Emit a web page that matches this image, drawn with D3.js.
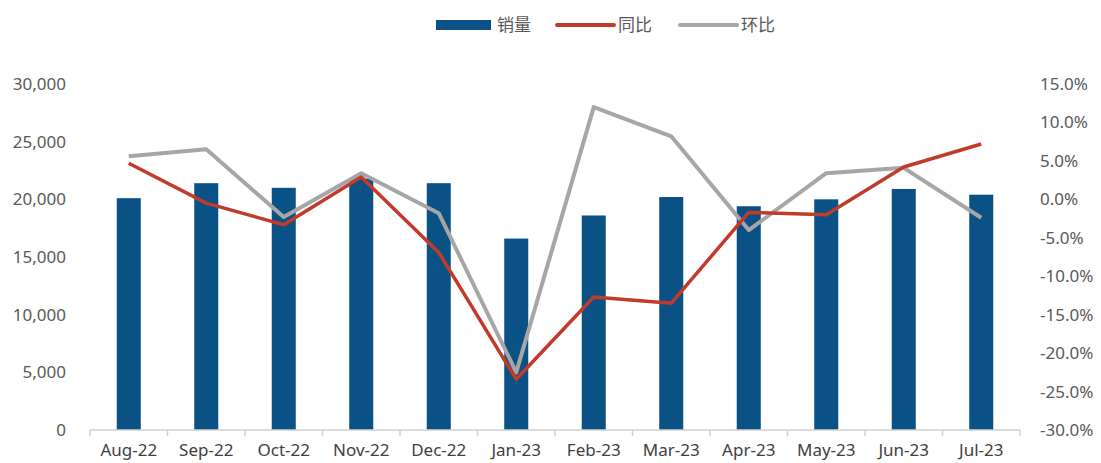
<!DOCTYPE html>
<html>
<head>
<meta charset="utf-8">
<script src="https://cdn.jsdelivr.net/npm/d3@7"></script>
<style>
  html, body { margin: 0; padding: 0; background: #fff; }
  svg { display: block; font-family: "Noto Sans", "Noto Sans CJK SC", sans-serif; }
</style>
</head>
<body>
<svg id="chart" width="1101" height="463"></svg>
<script>
// datos del grafico
var meses = ['Aug-22', 'Sep-22', 'Oct-22', 'Nov-22', 'Dec-22', 'Jan-23', 'Feb-23', 'Mar-23', 'Apr-23', 'May-23', 'Jun-23', 'Jul-23'];
var ventas = [20100, 21400, 21000, 21800, 21400, 16600, 18600, 20200, 19400, 20000, 20900, 20400];
var yoy = [4.7, -0.5, -3.3, 2.9, -6.9, -23.4, -12.7, -13.5, -1.7, -2.0, 4.2, 7.2];
var mom = [5.6, 6.5, -2.3, 3.4, -1.8, -22.5, 12.0, 8.2, -4.0, 3.4, 4.1, -2.4];
var ticksIzq = [0, 5000, 10000, 15000, 20000, 25000, 30000];
var ticksDer = [15, 10, 5, 0, -5, -10, -15, -20, -25, -30];

var svg = d3.select('#chart');
var margin = {top: 84, right: 81, bottom: 33, left: 90};
var width = +svg.attr('width') - margin.left - margin.right,
    height = +svg.attr('height') - margin.top - margin.bottom;

var g = svg.append('g').attr('transform', 'translate(' + margin.left + ',' + margin.top + ')');

var x = d3.scaleBand()
    .domain(meses)
    .range([0, width])
    .paddingInner(0.69)
    .paddingOuter(0.345);

var y = d3.scaleLinear().domain([0, 30000]).range([height, 0]);
var y2 = d3.scaleLinear().domain([-30, 15]).range([height, 0]);

var azul = '#0a5186', rojo = '#c23a2a', gris = '#a6a6a6';

// barras
g.selectAll('.bar')
  .data(ventas)
  .enter().append('rect')
    .attr('class', 'bar')
    .attr('x', function(d, i) { return x(meses[i]); })
    .attr('y', function(d) { return y(d); })
    .attr('width', x.bandwidth())
    .attr('height', function(d) { return height - y(d); })
    .attr('fill', azul);

// eje x
var paso = x.step();
g.append('line')
    .attr('x1', 0).attr('x2', width)
    .attr('y1', height).attr('y2', height)
    .attr('stroke', '#d0d0d0').attr('stroke-width', 1.5);

g.selectAll('.tick-x')
  .data(d3.range(meses.length + 1))
  .enter().append('line')
    .attr('x1', function(d) { return d * paso; })
    .attr('x2', function(d) { return d * paso; })
    .attr('y1', height).attr('y2', height + 6)
    .attr('stroke', '#d0d0d0').attr('stroke-width', 1.5);

g.selectAll('.lab-x')
  .data(meses)
  .enter().append('text')
    .attr('x', function(d) { return x(d) + x.bandwidth() / 2; })
    .attr('y', height + 26)
    .attr('text-anchor', 'middle')
    .attr('font-size', 17)
    .attr('fill', '#404040')
    .text(function(d) { return d; });

// eje izquierdo
var fmt = d3.format(',');
g.selectAll('.lab-y')
  .data(ticksIzq)
  .enter().append('text')
    .attr('x', -24)
    .attr('y', function(d) { return y(d); })
    .attr('dy', '0.35em')
    .attr('text-anchor', 'end')
    .attr('font-size', 17)
    .attr('fill', '#595959')
    .text(function(d) { return fmt(d); });

// eje derecho
g.selectAll('.lab-y2')
  .data(ticksDer)
  .enter().append('text')
    .attr('x', width + 20)
    .attr('y', function(d) { return y2(d); })
    .attr('dy', '0.35em')
    .attr('text-anchor', 'start')
    .attr('font-size', 17)
    .attr('fill', '#595959')
    .text(function(d) { return d.toFixed(1) + '%'; });

// lineas
var linea = d3.line()
    .x(function(d, i) { return x(meses[i]) + x.bandwidth() / 2; })
    .y(function(d) { return y2(d); });

g.append('path')
    .datum(mom)
    .attr('fill', 'none')
    .attr('stroke', gris)
    .attr('stroke-width', 4)
    .attr('stroke-linejoin', 'round')
    .attr('d', linea);

g.append('path')
    .datum(yoy)
    .attr('fill', 'none')
    .attr('stroke', rojo)
    .attr('stroke-width', 3.5)
    .attr('stroke-linejoin', 'round')
    .attr('d', linea);

// leyenda
var leyenda = svg.append('g').attr('transform', 'translate(0,25)');
var items = [
  {nombre: '销量', tipo: 'rect', color: azul, x: 436},
  {nombre: '同比', tipo: 'line', color: rojo, x: 557},
  {nombre: '环比', tipo: 'line', color: gris, x: 680}
];
items.forEach(function(it) {
  if (it.tipo === 'rect') {
    leyenda.append('rect')
      .attr('x', it.x).attr('y', -5)
      .attr('width', 55).attr('height', 10)
      .attr('fill', it.color);
  } else {
    leyenda.append('line')
      .attr('x1', it.x).attr('x2', it.x + 57)
      .attr('y1', 0).attr('y2', 0)
      .attr('stroke', it.color).attr('stroke-width', 4)
      .attr('stroke-linecap', 'round');
  }
  leyenda.append('text')
    .attr('x', it.x + 61)
    .attr('y', 0)
    .attr('dy', '0.36em')
    .attr('font-size', 17)
    .attr('fill', '#595959')
    .attr('font-family', '"Noto Sans CJK SC", sans-serif')
    .text(it.nombre);
});
</script>
</body>
</html>
